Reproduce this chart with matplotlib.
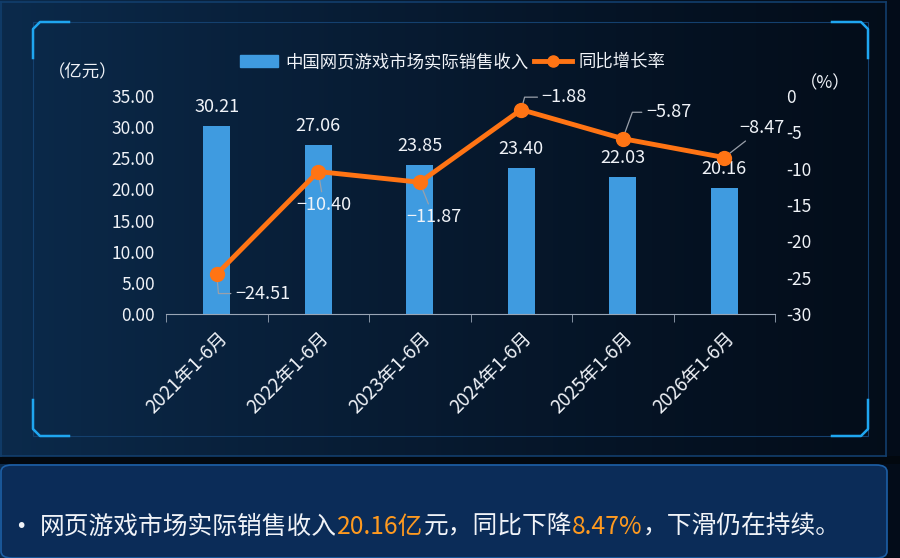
import numpy as np
import matplotlib.pyplot as plt
from matplotlib.lines import Line2D
from matplotlib.patches import FancyBboxPatch, Rectangle

plt.rcParams['font.family'] = ['Noto Sans CJK SC', 'DejaVu Sans']

# ---------- data ----------
periods = ["2021年1-6月", "2022年1-6月", "2023年1-6月",
           "2024年1-6月", "2025年1-6月", "2026年1-6月"]
revenue = [30.21, 27.06, 23.85, 23.40, 22.03, 20.16]
growth = [-24.51, -10.40, -11.87, -1.88, -5.87, -8.47]
# label offsets (points) and leader styles for the growth labels
growth_offsets = [(33, -14), (4, -24), (10, -25), (31, 9), (33, 19), (27, 21)]
leader_styles = ["angle,angleA=0,angleB=95,rad=0", "arc3", "arc3",
                 "angle,angleA=0,angleB=75,rad=0", "angle,angleA=0,angleB=70,rad=0", "arc3"]

BAR = "#3f9be0"
LINE = "#ff7414"
TXT = "#f0f3f8"
W, H = 900, 558

fig = plt.figure(figsize=(9, 5.58), dpi=100)

# background gradient (lighter blue on the left, near black on the right)
bg = fig.add_axes([0, 0, 1, 1], zorder=-10)
gx = np.linspace(0, 1, 200)
gy = np.linspace(0, 1, 120)
X, Y = np.meshgrid(gx, gy)
t = (1 - X) ** 1.2
r = 0.014 + 0.030 * t
g = 0.050 + 0.115 * t
b = 0.100 + 0.195 * t
bg.imshow(np.dstack([r, g, b]), aspect="auto", extent=[0, 1, 0, 1], origin="upper")
bg.set_xlim(0, 1)
bg.set_ylim(0, 1)
bg.axis("off")


def px(x, y):
    return x / W, 1 - y / H


# dark gap between the two panels
fig.add_artist(Rectangle(px(0, 464), 1, 8 / H, transform=fig.transFigure,
                         fc="#02080f", ec="none"))
# outer panel lines
for xs, ys in [((0, 886), (2, 2)), ((1, 1), (2, 456)), ((0, 886), (456, 456)),
               ((886, 886), (2, 456))]:
    fig.add_artist(Line2D([xs[0] / W, xs[1] / W], [1 - ys[0] / H, 1 - ys[1] / H],
                          color="#123e6c", lw=1.2, transform=fig.transFigure))
# inner frame
fig.add_artist(Rectangle(px(33, 436), 835 / W, 414 / H, transform=fig.transFigure,
                         fill=False, ec="#14406e", lw=0.8))
# corner decorations
corner = "#1fa6f0"
for cx, cy, sx, sy in [(33, 22, 1, 1), (868, 22, -1, 1), (33, 436, 1, -1), (868, 436, -1, -1)]:
    pts = [(cx, cy + sy * 36), (cx, cy + sy * 7), (cx + sx * 7, cy), (cx + sx * 36, cy)]
    xs = [p[0] / W for p in pts]
    ys = [1 - p[1] / H for p in pts]
    fig.add_artist(Line2D(xs, ys, color=corner, lw=1.8, transform=fig.transFigure))

# bottom text box
box = FancyBboxPatch(px(1, 558), 886 / W, 93 / H, boxstyle="round,pad=0,rounding_size=0.012",
                     transform=fig.transFigure, fc="#0b2c58", ec="#1d5fa6", lw=1.2)
fig.add_artist(box)

# ---------- chart ----------
ax = fig.add_axes([166 / W, 1 - 314 / H, 609 / W, 218 / H])
ax.set_facecolor("none")
x = np.arange(len(periods))
bars = ax.bar(x, revenue, width=0.27, color=BAR, zorder=2)
ax.set_xlim(-0.5, len(periods) - 0.5)
ax.set_ylim(0, 35)
ax.set_yticks(np.arange(0, 35.01, 5))
ax.set_yticklabels([f"{v:.2f}" for v in np.arange(0, 35.01, 5)])
for s in ["top", "left", "right"]:
    ax.spines[s].set_visible(False)
ax.spines["bottom"].set_color("#9aa6b6")
ax.tick_params(axis="y", length=0, pad=8, colors=TXT, labelsize=12.5)
ax.set_xticks(x)
ax.set_xticklabels(periods, rotation=45, ha="right", rotation_mode="anchor",
                   color=TXT, fontsize=13.5)
ax.tick_params(axis="x", which="major", length=0, pad=10)
ax.set_xticks(np.arange(-0.5, len(periods), 1), minor=True)
ax.tick_params(axis="x", which="minor", length=6, color="#9aa6b6", direction="out")
for rect, v in zip(bars, revenue):
    ax.text(rect.get_x() + rect.get_width() / 2, v + 1.6, f"{v:.2f}",
            ha="center", va="bottom", color=TXT, fontsize=13)

ax2 = ax.twinx()
ax2.set_ylim(-30, 0)
ax2.set_yticks(np.arange(-30, 1, 5))
ax2.set_yticklabels([f"{v:d}" for v in np.arange(-30, 1, 5)])
for s in ["top", "left", "right", "bottom"]:
    ax2.spines[s].set_visible(False)
ax2.tick_params(axis="y", length=0, pad=8, colors=TXT, labelsize=12.5)
line, = ax2.plot(x, growth, color=LINE, lw=3.5, marker="o", markersize=10, zorder=5)
for xi, v, off, cs in zip(x, growth, growth_offsets, leader_styles):
    ax2.annotate(f"\u2212{abs(v):.2f}", (xi, v), xytext=off, textcoords="offset points",
                 ha="center", va="center", color=TXT, fontsize=13,
                 arrowprops=dict(arrowstyle="-", color="#9aa0aa", lw=0.9,
                                 shrinkA=1, shrinkB=4, connectionstyle=cs))

# unit labels
fig.text(*px(48, 72), "（亿元）", color=TXT, fontsize=12.5, ha="left", va="center")
fig.text(*px(800, 83), "（%）", color=TXT, fontsize=12.5, ha="left", va="center")

# legend
bar_h = Rectangle((0, 0), 1, 1, color=BAR)
line_h = Line2D([], [], color=LINE, lw=3.5, marker="o", markersize=8)
leg = fig.legend([bar_h, line_h], ["中国网页游戏市场实际销售收入", "同比增长率"],
                 loc="center", bbox_to_anchor=px(453, 62), ncol=2, frameon=False,
                 fontsize=12.5, labelcolor=TXT, handlelength=2.2, columnspacing=0.3,
                 handletextpad=0.4)

# bottom sentence, multi-coloured
pieces = [("网页游戏市场实际销售收入", TXT), ("20.16亿", "#ff9a1f"), ("元，同比下降", TXT),
          ("8.47%", "#ff9a1f"), ("，下滑仍在持续。", TXT)]
fig.text(*px(15, 527), "\u2022", color=TXT, fontsize=14, ha="left", va="center",
         family="DejaVu Sans")
fig.canvas.draw()
renderer = fig.canvas.get_renderer()
xpos = 40
for s, c in pieces:
    t = fig.text(xpos / W, 1 - 527 / H, s, color=c, fontsize=17.8, ha="left", va="center")
    xpos += t.get_window_extent(renderer).width

fig.savefig("out.png", dpi=100)
